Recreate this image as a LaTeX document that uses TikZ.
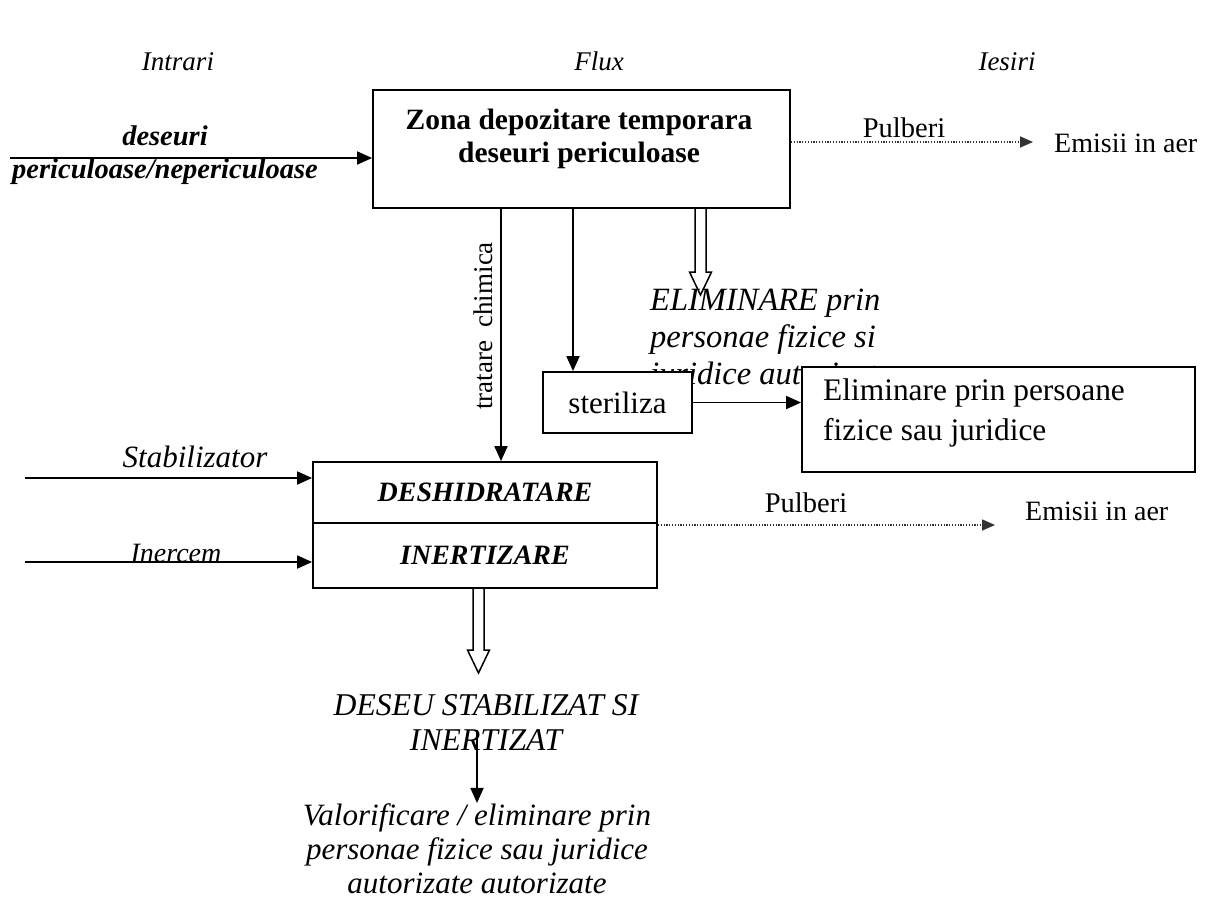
\documentclass[tikz,border=0pt]{standalone}
\usepackage{fontspec}
\setmainfont{Liberation Serif}
\usetikzlibrary{arrows.meta}

% hollow double arrow: x, top, tip
\newcommand\fatarrow[3]{%
  \draw[line width=1.5pt] (#1-5.5,#2) -- (#1-5.5,#3-23) -- (#1-11,#3-23)
    -- (#1,#3) -- (#1+11,#3-23) -- (#1+5.5,#3-23) -- (#1+5.5,#2);}

\tikzset{
  box/.style={draw, line width=1.8pt, fill=white, inner sep=0pt},
  flow/.style={line width=1.8pt, -{Triangle[length=15pt,width=13pt]}},
  dust/.style={line width=1.6pt, dash pattern=on 1.2pt off 1.6pt,
    -{Triangle[length=13pt,width=11pt]}, black!80},
  lbl/.style={inner sep=0pt, anchor=base}
}

\begin{document}
\begin{tikzpicture}[x=1pt, y=-1pt]
\useasboundingbox (0,0) rectangle (1226,911);

% column headers
\node[lbl, font=\fontsize{27}{32}\selectfont\itshape] (hin) at (178,70) {Intrari};
\node[lbl, font=\fontsize{27}{32}\selectfont\itshape] (hflux) at (599,70) {Flux};
\node[lbl, font=\fontsize{27}{32}\selectfont\itshape] (hout) at (1007,70) {Iesiri};

% storage box
\node[box, minimum width=417pt, minimum height=118pt] (zona) at (581.5,149) {};
\node[lbl, align=center, font=\fontsize{29.5}{33}\selectfont\bfseries] (zonatxt) at (579,162)
  {Zona depozitare temporara\\deseuri periculoase};

% waste input
\coordinate (in1) at (10,158);
\draw[flow] (in1) -- (in1 -| zona.west);
\node[lbl, align=center, font=\fontsize{28.5}{33}\selectfont\bfseries\itshape] (intxt) at (165,178)
  {deseuri\\periculoase/nepericuloase};

% dust to air (top)
\coordinate (air1) at (1033,142);
\draw[dust] (air1 -| zona.east) -- (air1);
\node[lbl, font=\fontsize{28.5}{33}\selectfont] (pulb1) at (904,137) {Pulberi};
\node[lbl, anchor=base west, font=\fontsize{28}{33}\selectfont] (emis1) at (1054,152) {Emisii in aer};

% disposal text (partly hidden by the boxes)
\node[lbl, anchor=base west, align=left, font=\fontsize{32.5}{37}\selectfont\itshape] (elimtxt)
  at (650,384) {ELIMINARE prin\\personae fizice si\\juridice autorizate};
\fatarrow{700.5}{208}{295}

% sterilisation
\node[box, minimum width=149pt, minimum height=61pt, font=\fontsize{31}{36}\selectfont] (ster)
  at (617.5,402.5) {steriliza};
\node[box, minimum width=393pt, minimum height=105pt] (elim) at (998.5,419.5) {};
\node[lbl, anchor=base west, align=left, font=\fontsize{31.4}{40}\selectfont] (elimbox)
  at (823,440) {Eliminare prin persoane\\fizice sau juridice};
\draw[flow] (ster.east) -- (ster.east -| elim.west);
\coordinate (sterin) at (573,0);
\draw[flow] (sterin |- zona.south) -- (sterin |- ster.north);

% dehydration / inertisation
\node[box, minimum width=344pt, minimum height=61pt, font=\fontsize{28}{33}\selectfont\bfseries\itshape]
  (desh) at (485,492.5) {DESHIDRATARE};
\node[box, minimum width=344pt, minimum height=65pt, font=\fontsize{28}{33}\selectfont\bfseries\itshape]
  (inert) at (485,555.5) {INERTIZARE};

\coordinate (chem) at (501,0);
\draw[flow] (chem |- zona.south) -- (chem |- desh.north);
\node[rotate=90, inner sep=0pt, font=\fontsize{27}{32}\selectfont] (chemtxt) at (483,326)
  {tratare\ \ chimica};

\coordinate (stab) at (25,478);
\draw[flow] (stab) -- (stab -| desh.west);
\node[lbl, font=\fontsize{31}{36}\selectfont\itshape] (stabtxt) at (195,467) {Stabilizator};
\coordinate (inerc) at (25,562);
\draw[flow] (inerc) -- (inerc -| inert.west);
\node[lbl, font=\fontsize{28}{33}\selectfont\itshape] (inerctxt) at (176,562) {Inercem};

% dust to air (bottom)
\coordinate (air2) at (995,525);
\draw[dust] (air2 -| inert.east) -- (air2);
\node[lbl, font=\fontsize{28.5}{33}\selectfont] (pulb2) at (806,512) {Pulberi};
\node[lbl, anchor=base west, font=\fontsize{28}{33}\selectfont] (emis2) at (1025,520) {Emisii in aer};

% stabilised waste
\fatarrow{478.5}{588}{673}
\node[lbl, align=center, font=\fontsize{31.7}{35}\selectfont\itshape] (deseu) at (486,750)
  {DESEU STABILIZAT SI\\INERTIZAT};
\node[lbl, align=center, font=\fontsize{31}{34}\selectfont\itshape] (valor) at (477,893)
  {Valorificare / eliminare prin\\personae fizice sau juridice\\autorizate autorizate};
\coordinate (out) at (477,730);
\draw[flow] (out) -- (out |- valor.north);

\end{tikzpicture}
\end{document}
